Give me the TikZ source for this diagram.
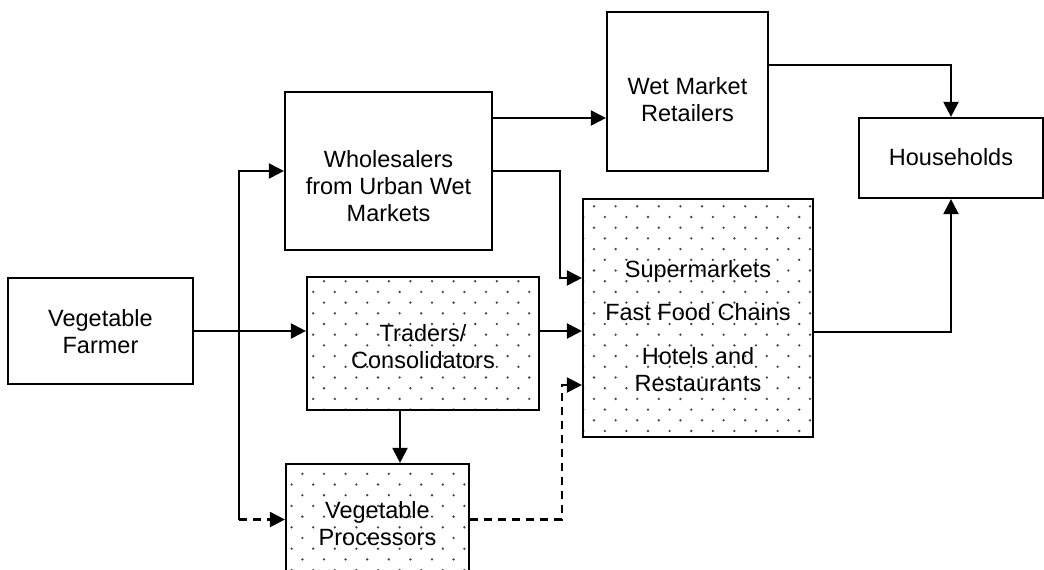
\documentclass[tikz,border=0pt]{standalone}
\usepackage{fontspec}
\setmainfont{Liberation Sans}
\usetikzlibrary{arrows.meta}
\definecolor{dotc}{HTML}{444444}
\newcommand\stipple[4]{%
  \begin{scope}
  \clip (#1,#2) rectangle (#3,#4);
  \pgfmathtruncatemacro\ra{floor(#2/10.7)}
  \pgfmathtruncatemacro\rb{ceil(#4/10.7)}
  \pgfmathtruncatemacro\ca{floor(#1/21.6)-1}
  \pgfmathtruncatemacro\cb{ceil(#3/21.6)}
  \foreach \ri in {\ra,...,\rb}{
    \foreach \ci in {\ca,...,\cb}{
      \fill[dotc] ({\ci*21.6+mod(\ri,2)*10.8},{\ri*10.7+3}) circle (1.3pt);
    }}
  \end{scope}}
\tikzset{
  box/.style={draw, line width=2.2pt, rectangle, inner sep=0pt},
  lbl/.style={inner sep=0pt, align=center, font=\fontsize{23.5}{27}\selectfont},
  conn/.style={line width=2.2pt},
  arr/.style={line width=2.2pt, -{Triangle[length=15pt,width=15pt]}},
  dsh/.style={dash pattern=on 8pt off 6pt},
}
\begin{document}
\begin{tikzpicture}[x=1pt,y=-1pt]
\useasboundingbox (0,0) rectangle (1044,570);
% stipple fills
\stipple{583}{199}{813}{437}
\stipple{307}{277}{539}{410}
\stipple{286}{464}{469}{575}
% boxes
\node[box, minimum width=185, minimum height=106] (farmer) at (100.5,331) {};
\node[box, minimum width=207, minimum height=158] (whole) at (388.5,171) {};
\node[box, minimum width=161, minimum height=159] (wet) at (687.5,91.5) {};
\node[box, minimum width=184, minimum height=80] (house) at (951,158) {};
\node[box, minimum width=230, minimum height=238] (super) at (698,318) {};
\node[box, minimum width=232, minimum height=133] (traders) at (423,343.5) {};
\node[box, minimum width=183, minimum height=111] (proc) at (377.5,519.5) {};
% texts
\node[lbl] (tfarmer) at (100.5,331.5) {Vegetable\\Farmer};
\node[lbl] (twhole) at (388.5,186) {Wholesalers\\from Urban Wet\\Markets};
\node[lbl] (twet) at (687.5,100) {Wet Market\\Retailers};
\node[lbl] (thouse) at (951,157) {Households};
\node[lbl] (ttraders) at (423,347) {Traders/\\Consolidators};
\node[lbl] (tproc) at (377.5,524) {Vegetable\\Processors};
\node[lbl] (tsuper) at (698,326.5) {Supermarkets\\[16pt]Fast Food Chains\\[17pt]Hotels and\\Restaurants};
% helper coordinates
\coordinate (j) at (239,331);
\coordinate (ya) at (0,118);
\coordinate (c1) at (560,278);
\coordinate (c2) at (400,0);
\coordinate (c3) at (562,385);
\coordinate (yb) at (0,65);
\coordinate (yc) at (0,332);
% connectors
\draw[arr] (farmer.east) -- (traders.west |- farmer.east);
\draw[arr] (j) |- (whole.west);
\draw[conn] (j) -- (j |- proc.west);
\draw[arr,dsh] (j |- proc.west) -- (proc.west);
\draw[arr] (whole.east |- ya) -- (wet.west |- ya);
\draw[arr] (whole.east) -| (c1) -- (super.west |- c1);
\draw[arr] (traders.east |- farmer.east) -- (super.west |- farmer.east);
\draw[arr] (traders.south -| c2) -- (proc.north -| c2);
\draw[arr,dsh] (proc.east |- proc.west) -| (c3) -- (super.west |- c3);
\draw[arr] (wet.east |- yb) -| (house.north);
\draw[arr] (super.east |- yc) -| (house.south);
\end{tikzpicture}
\end{document}
